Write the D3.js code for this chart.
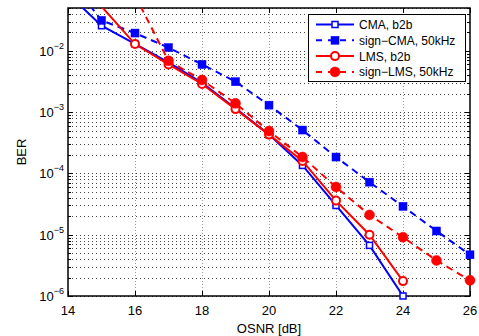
<body style="margin:0;background:#fff"></body>

<script type='text/javascript' src='https://d3js.org/d3.v7.min.js'></script>
<script>
    var width = 479, height = 336;
    var margin = {left: 68, right: 9, top: 8, bottom: 40};

    // data (OSNR in dB, BER)
    var osnrCma = [14, 15, 16, 17, 18, 19, 20, 21, 22, 23, 24];
    var berCma = [0.085, 0.0257, 0.013, 0.0065, 0.003, 0.00115, 4.3e-4, 1.35e-4, 3.0e-5, 6.7e-6, 1.0e-6];
    var osnrSignCma = [14, 15, 16, 17, 18, 19, 20, 21, 22, 23, 24, 25, 26];
    var berSignCma = [0.16, 0.0314, 0.0195, 0.0113, 0.006, 0.00314, 0.0013, 5.1e-4, 1.85e-4, 7.2e-5, 2.9e-5, 1.15e-5, 4.7e-6];
    var osnrLms = [15, 16, 17, 18, 19, 20, 21, 22, 23, 24];
    var berLms = [0.053, 0.0129, 0.006, 0.00288, 0.00112, 4.3e-4, 1.6e-4, 3.6e-5, 1.0e-5, 1.75e-6];
    var osnrSignLms = [16, 17, 18, 19, 20, 21, 22, 23, 24, 25, 26];
    var berSignLms = [0.08, 0.00686, 0.00335, 0.00139, 4.9e-4, 1.85e-4, 6.0e-5, 2.1e-5, 9.1e-6, 3.8e-6, 1.8e-6];

    var xTicks = [14, 16, 18, 20, 22, 24, 26];
    var yDecades = [-6, -5, -4, -3, -2];
    var legendLabels = ['CMA, b2b', 'sign\u2212CMA, 50kHz', 'LMS, b2b', 'sign\u2212LMS, 50kHz'];

    var series = [
        {x: osnrCma, y: berCma, color: '#0000ff', dash: null, marker: 'square', filled: false, size: 6},
        {x: osnrSignCma, y: berSignCma, color: '#0000ff', dash: '7,5', marker: 'square', filled: true, size: 8},
        {x: osnrLms, y: berLms, color: '#ff0000', dash: null, marker: 'circle', filled: false, size: 4},
        {x: osnrSignLms, y: berSignLms, color: '#ff0000', dash: '7,5', marker: 'circle', filled: true, size: 5}
    ];

    var font = "'Liberation Sans', Arial, Helvetica, sans-serif";

    var svg = d3.select('body').append('svg').attr('width', width).attr('height', height)
        .style('font-family', font);

    var x = d3.scaleLinear().domain([14, 26]).range([margin.left, width - margin.right]);
    var y = d3.scaleLog().domain([1e-6, 0.05]).range([height - margin.bottom, margin.top]);

    var x0 = x.range()[0], x1 = x.range()[1], y0 = y.range()[0], y1 = y.range()[1];

    svg.append('defs').append('clipPath').attr('id', 'clip')
        .append('rect').attr('x', x0).attr('y', y1).attr('width', x1 - x0).attr('height', y0 - y1);

    // minor + major horizontal grid
    var yGrid = [];
    yDecades.forEach(function (e) {
        for (var m = 1; m < 10; m++) {
            var v = m * Math.pow(10, e);
            if (v <= 0.05) yGrid.push(v);
        }
    });

    var grid = svg.append('g');
    grid.selectAll('line.h').data(yGrid).join('line')
        .attr('class', 'h')
        .attr('x1', x0).attr('x2', x1)
        .attr('y1', function (d) { return Math.round(y(d)) + 0.5; })
        .attr('y2', function (d) { return Math.round(y(d)) + 0.5; })
        .attr('stroke', '#444').attr('stroke-width', 1).attr('stroke-dasharray', '1,3');

    grid.selectAll('line.v').data(xTicks.slice(1, -1)).join('line')
        .attr('class', 'v')
        .attr('x1', function (d) { return Math.round(x(d)) + 0.5; })
        .attr('x2', function (d) { return Math.round(x(d)) + 0.5; })
        .attr('y1', y1).attr('y2', y0)
        .attr('stroke', '#999').attr('stroke-width', 1).attr('stroke-dasharray', '1,2');

    // ticks (inside, on all four sides)
    var ticks = svg.append('g').attr('stroke', '#000').attr('stroke-width', 1);
    xTicks.forEach(function (d) {
        var px = Math.round(x(d)) + 0.5;
        ticks.append('line').attr('x1', px).attr('x2', px).attr('y1', y0).attr('y2', y0 - 5);
        ticks.append('line').attr('x1', px).attr('x2', px).attr('y1', y1).attr('y2', y1 + 5);
    });
    yGrid.forEach(function (d) {
        var py = Math.round(y(d)) + 0.5;
        var major = Math.abs(Math.log10(d) - Math.round(Math.log10(d))) < 1e-9;
        var len = major ? 5 : 3;
        ticks.append('line').attr('x1', x0).attr('x2', x0 + len).attr('y1', py).attr('y2', py);
        ticks.append('line').attr('x1', x1).attr('x2', x1 - len).attr('y1', py).attr('y2', py);
    });

    // box (under the series so markers on the edge show on top)
    svg.append('rect')
        .attr('x', x0).attr('y', y1).attr('width', x1 - x0).attr('height', y0 - y1)
        .attr('fill', 'none').attr('stroke', '#000').attr('stroke-width', 1.5);

    // series
    var line = d3.line()
        .x(function (d) { return x(d[0]); })
        .y(function (d) { return y(d[1]); });

    var plot = svg.append('g').attr('clip-path', 'url(#clip)');
    var marks = svg.append('g');

    function drawMarker(g, s, cx, cy) {
        if (s.marker === 'square') {
            g.append('rect')
                .attr('x', cx - s.size / 2).attr('y', cy - s.size / 2)
                .attr('width', s.size).attr('height', s.size)
                .attr('fill', s.filled ? s.color : '#fff')
                .attr('stroke', s.color).attr('stroke-width', s.filled ? 0.5 : 1.5);
        } else {
            g.append('circle')
                .attr('cx', cx).attr('cy', cy).attr('r', s.size)
                .attr('fill', s.filled ? s.color : '#fff')
                .attr('stroke', s.color).attr('stroke-width', s.filled ? 0.5 : 2);
        }
    }

    series.forEach(function (s) {
        var pts = s.x.map(function (v, i) { return [v, s.y[i]]; });
        var g = svg.append('g');
        g.append('path').datum(pts)
            .attr('clip-path', 'url(#clip)')
            .attr('d', line)
            .attr('fill', 'none')
            .attr('stroke', s.color)
            .attr('stroke-width', 2)
            .attr('stroke-dasharray', s.dash);
        pts.forEach(function (p) {
            // markers whose point lies outside the axes are not drawn
            if (p[1] > 0.05 || p[1] < 1e-6) return;
            drawMarker(g, s, x(p[0]), y(p[1]));
        });
    });

    // tick labels
    svg.append('g').selectAll('text').data(xTicks).join('text')
        .attr('x', function (d) { return x(d); })
        .attr('y', y0 + 19)
        .attr('text-anchor', 'middle')
        .style('font-size', '13px')
        .text(function (d) { return d; });

    var yl = svg.append('g').selectAll('text').data(yDecades).join('text')
        .attr('x', x0 - 4)
        .attr('y', function (d) { return y(Math.pow(10, d)) + 5; })
        .attr('text-anchor', 'end')
        .style('font-size', '13px');
    yl.append('tspan').text('10');
    yl.append('tspan').attr('dy', -7).style('font-size', '9px')
        .text(function (d) { return '\u2212' + Math.abs(d); });

    // axis labels
    svg.append('text')
        .attr('x', (x0 + x1) / 2).attr('y', height - 3)
        .attr('text-anchor', 'middle')
        .style('font-size', '13px')
        .text('OSNR [dB]');

    svg.append('text')
        .attr('transform', 'translate(' + 26 + ',' + ((y0 + y1) / 2) + ') rotate(-90)')
        .attr('text-anchor', 'middle')
        .style('font-size', '13px')
        .text('BER');

    // legend
    var lg = svg.append('g');
    lg.append('rect')
        .attr('x', 308.5).attr('y', 14.5).attr('width', 157).attr('height', 67)
        .attr('fill', '#fff').attr('stroke', '#000').attr('stroke-width', 1);

    series.forEach(function (s, i) {
        var ly = 24.5 + i * 15.8;
        lg.append('line')
            .attr('x1', 316).attr('x2', 354).attr('y1', ly).attr('y2', ly)
            .attr('stroke', s.color).attr('stroke-width', 2)
            .attr('stroke-dasharray', s.dash ? '6,6' : null);
        drawMarker(lg, s, 335, ly);
        lg.append('text')
            .attr('x', 359).attr('y', ly + 4.5)
            .style('font-size', '12px')
            .text(legendLabels[i]);
    });
</script>
